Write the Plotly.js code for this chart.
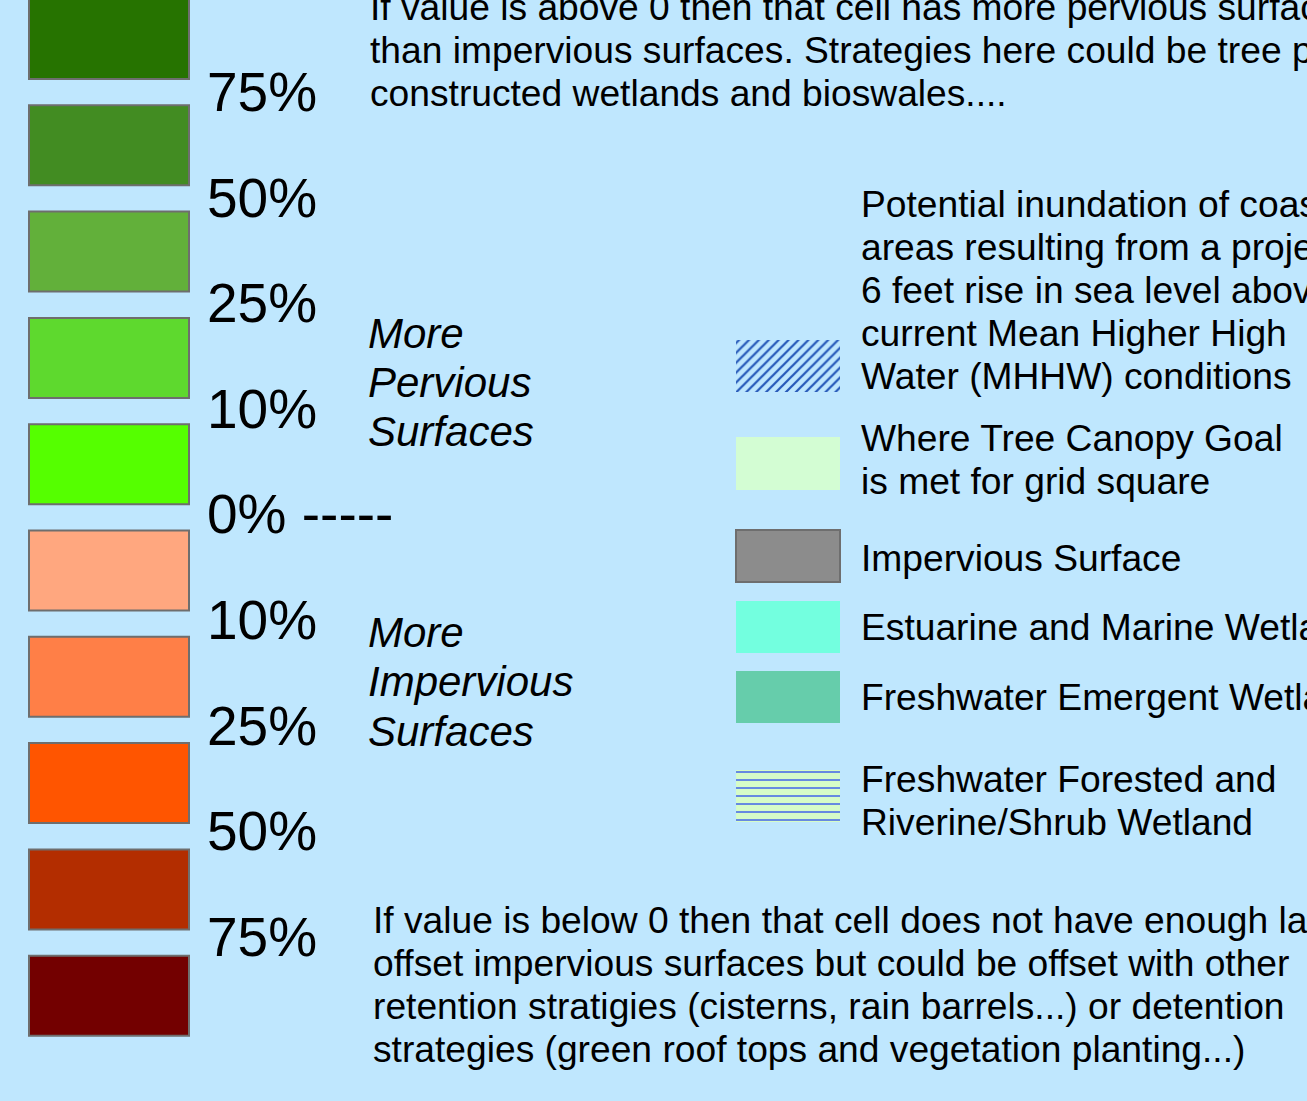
<!DOCTYPE html>
<html>
<head>
<meta charset="utf-8">
<script src="https://cdn.plot.ly/plotly-3.0.1.min.js"></script>
<style>
  html, body { margin: 0; padding: 0; background: #bfe7fe; }
  #chart { width: 1307px; height: 1101px; }
</style>
</head>
<body>
<div id="chart"></div>
<script>
// ---------------- DATA ----------------
const gradeColors = ['#267300', '#428c22', '#62b03a', '#5ed92e', '#55ff00',
                     '#ffa77f', '#ff7f47', '#ff5500', '#b32d00', '#730000'];
const percentLabels = ['75%', '50%', '25%', '10%', '0% -----', '10%', '25%', '50%', '75%'];
const perviousNote = ['More', 'Pervious', 'Surfaces'];
const imperviousNote = ['More', 'Impervious', 'Surfaces'];
const topNote = [
  'If value is above 0 then that cell has more pervious surfaces',
  'than impervious surfaces. Strategies here could be tree planting,',
  'constructed wetlands and bioswales....'
];
const bottomNote = [
  'If value is below 0 then that cell does not have enough land to',
  'offset impervious surfaces but could be offset with other',
  'retention stratigies (cisterns, rain barrels...) or detention',
  'strategies (green roof tops and vegetation planting...)'
];
const legendNames = ['Sea level rise', 'Tree canopy goal', 'Impervious', 'Estuarine', 'Freshwater emergent', 'Freshwater forested'];
const legendLabels = [
  ['Potential inundation of coastal', 'areas resulting from a projected', '6 feet rise in sea level above',
   'current Mean Higher High', 'Water (MHHW) conditions'],
  ['Where Tree Canopy Goal', 'is met for grid square'],
  ['Impervious Surface'],
  ['Estuarine and Marine Wetlands'],
  ['Freshwater Emergent Wetland'],
  ['Freshwater Forested and', 'Riverine/Shrub Wetland']
];
const legendFills = ['#bfe7fe', '#d3fdd3', '#8c8c8c', '#73ffdf', '#66cdab', '#d6fcc8'];

// ---------------- GEOMETRY / STYLE ----------------
const BG = '#bfe7fe';
const FONT = 'Liberation Sans, Arial, sans-serif';
const W = 1307, H = 1101;

// left color ramp
const rampX0 = 29, rampX1 = 189, rampTop0 = -1, rampStep = 106.3, rampH = 80;
const pctX = 206, pctY0 = 92, pctStep = 105.6;
// right legend
const legX0 = 736, legX1 = 840;
const legTops = [340, 437, 530, 601, 671, 770];
const legH = [52, 53, 52, 52, 52, 52];
const legTextX = 860;
const legLineY0 = [204, 438, 558, 627, 697, 779];
const lineGap = 43;

const traces = [];
traces.push({
  type: 'bar',
  x: gradeColors.map(() => (rampX0 + rampX1) / 2),
  y: gradeColors.map(() => rampH),
  base: gradeColors.map((c, i) => rampTop0 + i * rampStep),
  width: rampX1 - rampX0,
  marker: { color: gradeColors, line: { color: '#6e6e6e', width: 2 } },
  hoverinfo: 'skip', showlegend: false
});

const patterns = [
  { shape: '/', fgcolor: '#2457b8', bgcolor: legendFills[0], size: 7, solidity: 0.32, fillmode: 'replace' },
  null, null, null, null,
  { shape: '-', fgcolor: '#4a6ee8', bgcolor: legendFills[5], size: 8, solidity: 0.2, fillmode: 'replace' }
];
legendNames.forEach((name, i) => {
  const m = { color: legendFills[i] };
  if (patterns[i]) m.pattern = patterns[i];
  m.line = (i === 2) ? { color: '#6e6e6e', width: 2 } : { width: 0 };
  traces.push({
    type: 'bar', name: name,
    x: [(legX0 + legX1) / 2], y: [legH[i]], base: [legTops[i]],
    width: legX1 - legX0,
    marker: m, hoverinfo: 'skip', showlegend: false
  });
});

const annotations = [];
function addText(text, x, y, size, italic) {
  annotations.push({
    xref: 'x', yref: 'y', x: x, y: y, text: text,
    showarrow: false, xanchor: 'left', yanchor: 'middle', align: 'left',
    borderpad: 0,
    font: { family: FONT, size: size, color: '#000', style: italic ? 'italic' : 'normal' }
  });
}
percentLabels.forEach((t, i) => addText(t, pctX, pctY0 + i * pctStep, 55, false));
perviousNote.forEach((t, i) => addText(t, 367, 333 + i * 49, 42, true));
imperviousNote.forEach((t, i) => addText(t, 367, 632 + i * 49.5, 42, true));
topNote.forEach((t, i) => addText(t, 369, 7 + i * lineGap, 37.2, false));
bottomNote.forEach((t, i) => addText(t, 372, 920 + i * lineGap, 37.2, false));
legendLabels.forEach((lines, k) => {
  lines.forEach((t, i) => addText(t, legTextX, legLineY0[k] + i * lineGap, 37.2, false));
});

const layout = {
  width: W, height: H,
  margin: { l: 0, r: 0, t: 0, b: 0, pad: 0 },
  paper_bgcolor: BG, plot_bgcolor: BG,
  barmode: 'overlay',
  showlegend: false,
  xaxis: { range: [0, W], visible: false, fixedrange: true },
  yaxis: { range: [H, 0], visible: false, fixedrange: true },
  annotations: annotations
};

Plotly.newPlot('chart', traces, layout, { displayModeBar: false, staticPlot: true });
</script>
</body>
</html>
